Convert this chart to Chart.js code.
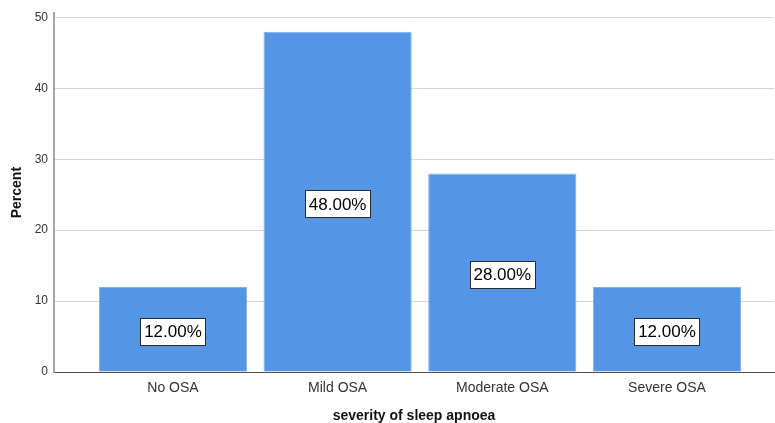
<!DOCTYPE html>
<html>
<head>
<meta charset="utf-8">
<script src="https://cdn.jsdelivr.net/npm/chart.js@4/dist/chart.umd.min.js"></script>
<style>
  html, body { margin: 0; padding: 0; background: #fff; }
  #wrap { width: 775px; height: 423px; }
</style>
</head>
<body>
<div id="wrap"><canvas id="c" width="775" height="423"></canvas></div>
<script>
// Severity of sleep apnoea: percent of patients in each group
const categories = ['No OSA', 'Mild OSA', 'Moderate OSA', 'Severe OSA'];
const percents = [12, 48, 28, 12];
const yTicks = [0, 10, 20, 30, 40, 50];

const FONT = "'Liberation Sans', Arial, sans-serif";

// Boxed percentage label in the middle of each bar
const boxLabels = {
  id: 'boxLabels',
  afterDatasetsDraw(chart) {
    const ctx = chart.ctx;
    const meta = chart.getDatasetMeta(0);
    const yScale = chart.scales.y;
    ctx.save();
    ctx.font = '17px ' + FONT;
    ctx.textAlign = 'center';
    ctx.textBaseline = 'middle';
    meta.data.forEach((bar, i) => {
      const v = percents[i];
      const text = v.toFixed(2) + '%';
      const cy = yScale.getPixelForValue(v / 2) + 2;
      const cx = bar.x;
      const w = Math.round(ctx.measureText(text).width + 7);
      const h = 27;
      const x0 = Math.round(cx - w / 2) + 0.5;
      const y0 = Math.round(cy - h / 2) + 0.5;
      ctx.fillStyle = '#ffffff';
      ctx.fillRect(x0, y0, w, h);
      ctx.strokeStyle = '#2b2b2b';
      ctx.lineWidth = 1;
      ctx.strokeRect(x0, y0, w, h);
      ctx.fillStyle = '#000000';
      ctx.fillText(text, cx, cy + 1);
    });
    ctx.restore();
  }
};

new Chart(document.getElementById('c'), {
  type: 'bar',
  data: {
    datasets: [{
      data: percents.map((v, i) => ({ x: i, y: v })),
      backgroundColor: '#5495e5',
      borderColor: '#7eb0ee',
      borderWidth: 1,
      barPercentage: 0.9,
      categoryPercentage: 1.0
    }]
  },
  options: {
    responsive: false,
    animation: false,
    layout: { padding: { top: 3, right: 1, left: 0, bottom: 0 } },
    plugins: { legend: { display: false }, tooltip: { enabled: false } },
    scales: {
      x: {
        type: 'linear',
        offset: false,
        min: -0.7225,
        max: 3.65,
        afterBuildTicks(scale) {
          scale.ticks = categories.map((_, i) => ({ value: i }));
        },
        afterFit(scale) { scale.height = 51; },
        grid: { display: false, drawTicks: false },
        border: { display: true, color: '#4d4d4d', width: 1 },
        ticks: {
          callback: (v) => categories[v],
          color: '#333333',
          font: { family: FONT, size: 14 },
          padding: 8,
          maxRotation: 0,
          autoSkip: false
        },
        title: {
          display: true,
          text: 'severity of sleep apnoea',
          color: '#111111',
          font: { family: FONT, size: 14, weight: 'bold' },
          padding: { top: 0, bottom: -2 }
        }
      },
      y: {
        min: 0,
        max: 50.6,
        afterBuildTicks(scale) {
          scale.ticks = yTicks.map(v => ({ value: v }));
        },
        afterFit(scale) { scale.width = 54; },
        grid: { color: '#d4d4d4', lineWidth: 1, drawTicks: false },
        border: { display: true, color: '#a6a6a6', width: 2 },
        ticks: {
          color: '#333333',
          font: { family: FONT, size: 12 },
          padding: 6
        },
        title: {
          display: true,
          text: 'Percent',
          color: '#111111',
          font: { family: FONT, size: 14, weight: 'bold' },
          padding: { top: 9, bottom: 0 }
        }
      }
    }
  },
  plugins: [boxLabels]
});
</script>
</body>
</html>
